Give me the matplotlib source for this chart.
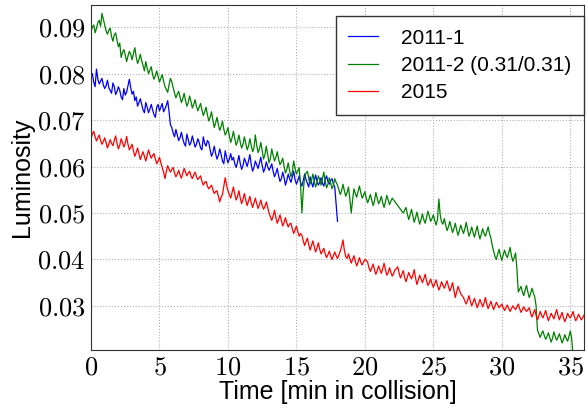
import numpy as np
import matplotlib
matplotlib.use("Agg")
import matplotlib.pyplot as plt
from matplotlib.ticker import FuncFormatter

plt.rcParams['mathtext.fontset'] = 'cm'
plt.rcParams['font.family'] = ['Liberation Sans', 'DejaVu Sans']

# sampling step of the luminosity readings [min], one row below = 1 min
dt = 0.1

# luminosity readings, in units of 1e-4
lumi_2011_1 = [
    795, 800, 782, 772, 810, 788, 778, 784, 790, 776,
    768, 774, 786, 770, 764, 758, 780, 772, 755, 762,
    772, 764, 750, 744, 768, 754, 760, 774, 788, 770,
    756, 762, 742, 750, 730, 738, 746, 734, 722, 716,
    738, 728, 716, 724, 734, 722, 712, 706, 728, 734,
    720, 728, 736, 718, 724, 732, 742, 718, 690, 684,
    672, 664, 680, 668, 656, 662, 674, 660, 650, 644,
    670, 658, 646, 652, 666, 654, 642, 648, 660, 652,
    640, 636, 664, 650, 644, 656, 652, 636, 622, 630,
    644, 628, 616, 624, 638, 626, 612, 606, 634, 620,
    608, 616, 628, 614, 620, 606, 598, 610, 624, 606,
    594, 602, 618, 610, 600, 612, 626, 604, 590, 598,
    612, 604, 596, 608, 620, 602, 588, 596, 610, 600,
    592, 598, 606, 590, 578, 586, 596, 580, 568, 574,
    588, 576, 560, 570, 584, 574, 566, 578, 590, 572,
    562, 570, 580, 566, 558, 570, 584, 572, 564, 556,
    578, 566, 556, 570, 582, 568, 560, 566, 576, 564,
    558, 572, 580, 568, 562, 570, 574, 562, 556, 520,
    482,
]

lumi_2011_2 = [
    0,
    892, 900, 905, 888, 898, 910, 915, 902, 930, 918,
    905, 892, 885, 894, 898, 880, 870, 884, 888, 872,
    858, 866, 835, 846, 852, 840, 826, 838, 848, 842,
    830, 844, 856, 836, 822, 830, 842, 828, 818, 806,
    826, 812, 800, 808, 815, 798, 788, 796, 806, 794,
    782, 790, 798, 784, 772, 766, 760, 776, 790, 782,
    770, 758, 748, 756, 762, 750, 738, 746, 758, 742,
    730, 738, 752, 740, 726, 734, 744, 730, 720, 728,
    736, 722, 710, 718, 728, 712, 698, 706, 718, 700,
    684, 694, 706, 690, 678, 686, 698, 680, 668, 674,
    684, 666, 652, 662, 676, 660, 646, 654, 668, 652,
    640, 648, 664, 650, 636, 644, 660, 646, 632, 640,
    668, 646, 630, 638, 652, 634, 616, 626, 644, 626,
    608, 618, 638, 624, 612, 620, 632, 616, 604, 610,
    618, 600, 586, 594, 608, 592, 578, 588, 612, 596,
    584, 590, 598, 560, 500, 548, 578, 586, 590, 574,
    562, 570, 584, 568, 556, 566, 580, 572, 560, 574,
    588, 568, 554, 562, 576, 564, 552, 560, 574, 566,
    560, 550, 540, 548, 562, 548, 536, 544, 556, 530,
    500, 528, 552, 542, 534, 546, 558, 544, 532, 538,
    546, 532, 522, 530, 540, 528, 516, 526, 544, 532,
    520, 526, 536, 522, 512, 524, 538, 528, 518, 526,
    532, 528, 524, 520, 516, 512, 508, 504, 500, 506,
    512, 498, 486, 496, 508, 494, 480, 490, 502, 488,
    476, 486, 498, 486, 478, 490, 504, 494, 482, 488,
    496, 484, 474, 486, 530, 496, 480, 476, 488, 474,
    462, 470, 482, 470, 458, 466, 478, 464, 452, 462,
    474, 464, 456, 466, 480, 464, 450, 458, 470, 458,
    448, 460, 472, 456, 444, 454, 466, 456, 450, 460,
    470, 456, 446, 430, 418, 406, 400, 412, 422, 408,
    398, 410, 420, 410, 404, 414, 426, 408, 396, 404,
    414, 380, 330, 336, 342, 330, 322, 334, 344, 330,
    318, 326, 338, 328, 320, 300, 248, 240, 232, 240,
    246, 236, 228, 234, 242, 232, 222, 230, 244, 234,
    226, 232, 240, 230, 220, 228, 238, 230, 224, 234,
    246, 230, 190,
]

lumi_2015 = [
    660, 670, 676, 664, 655, 662, 668, 656, 648, 654,
    662, 652, 640, 648, 658, 650, 645, 656, 666, 650,
    638, 646, 660, 652, 642, 650, 665, 648, 636, 642,
    648, 634, 622, 630, 640, 628, 615, 624, 632, 622,
    612, 624, 636, 626, 618, 624, 628, 616, 606, 612,
    620, 608, 598, 588, 574, 590, 602, 594, 588, 594,
    598, 586, 578, 584, 592, 582, 575, 586, 596, 588,
    580, 586, 590, 580, 574, 582, 588, 578, 572, 576,
    580, 568, 560, 566, 568, 558, 552, 556, 560, 550,
    542, 546, 548, 536, 524, 534, 540, 558, 576, 560,
    548, 540, 532, 544, 556, 540, 528, 536, 548, 532,
    520, 530, 542, 528, 516, 526, 536, 522, 512, 522,
    532, 520, 510, 518, 528, 516, 508, 514, 524, 512,
    500, 492, 484, 494, 506, 490, 478, 486, 496, 484,
    472, 480, 490, 478, 470, 476, 478, 466, 456, 464,
    472, 460, 450, 456, 452, 440, 430, 438, 446, 432,
    420, 430, 440, 428, 416, 424, 436, 422, 412, 418,
    424, 412, 404, 410, 418, 408, 400, 408, 416, 408,
    402, 410, 418, 428, 442, 420, 406, 402, 412, 402,
    392, 400, 408, 396, 386, 394, 404, 394, 388, 394,
    400, 398, 394, 382, 374, 382, 390, 378, 368, 376,
    386, 378, 370, 380, 392, 378, 366, 372, 382, 372,
    364, 370, 378, 380, 384, 370, 360, 368, 376, 362,
    352, 362, 372, 364, 358, 366, 378, 360, 346, 356,
    366, 358, 350, 358, 368, 354, 344, 350, 358, 348,
    340, 348, 356, 344, 334, 342, 352, 344, 338, 346,
    354, 342, 332, 340, 350, 334, 318, 330, 342, 334,
    326, 322, 318, 310, 304, 312, 322, 310, 300, 308,
    316, 306, 296, 304, 314, 306, 298, 306, 318, 304,
    294, 302, 310, 300, 292, 300, 308, 302, 296, 300,
    304, 296, 290, 296, 302, 294, 288, 294, 300, 296,
    292, 298, 304, 294, 286, 292, 298, 292, 288, 292,
    296, 284, 276, 284, 292, 280, 270, 278, 288, 280,
    274, 282, 290, 278, 268, 276, 284, 278, 272, 282,
    292, 280, 270, 278, 286, 274, 266, 274, 284, 278,
    274, 280, 288, 276, 268, 274, 282, 276, 270, 274,
    280,
]

t1 = np.arange(len(lumi_2011_1)) * dt
# 2011-2 log starts with a zero reading at t=0
t2 = np.r_[0.0, np.arange(len(lumi_2011_2) - 1) * dt]
t3 = np.arange(len(lumi_2015)) * dt

fig = plt.figure(figsize=(5.86, 4.09), dpi=100)
ax = fig.add_axes([0.1553, 0.1443, 0.8413, 0.8435])

ax.plot(t1, np.array(lumi_2011_1) * 1e-4, color='b', lw=0.9, label='2011-1')
ax.plot(t2, np.array(lumi_2011_2) * 1e-4, color='g', lw=0.9, label='2011-2 (0.31/0.31)')
ax.plot(t3, np.array(lumi_2015) * 1e-4, color='r', lw=0.9, label='2015')

ax.set_xlim(0, 36)
ax.set_ylim(0.0205, 0.0948)
ax.set_xticks([0, 5, 10, 15, 20, 25, 30, 35])
ax.set_yticks([0.03, 0.04, 0.05, 0.06, 0.07, 0.08, 0.09])
ax.xaxis.set_major_formatter(FuncFormatter(lambda v, p: r'$%d$' % v))
ax.yaxis.set_major_formatter(FuncFormatter(lambda v, p: r'$%.2f$' % v))
ax.tick_params(length=0, labelsize=19, pad=4)
ax.grid(True, color='#b0b0b0', ls=':', lw=0.8)
for s in ax.spines.values():
    s.set_color('#333333')

ax.set_xlabel('Time [min in collision]', fontsize=18, labelpad=0)
ax.set_ylabel('Luminosity', fontsize=18, labelpad=2)

leg = ax.legend(loc='upper right', bbox_to_anchor=(1.0, 0.968), borderaxespad=0,
                fontsize=15, fancybox=False, framealpha=1, edgecolor='#333333',
                handlelength=1.45, borderpad=0.6, labelspacing=0.4, handletextpad=1.1)
leg.get_frame().set_linewidth(1.0)

fig.savefig('out.png', dpi=100)
